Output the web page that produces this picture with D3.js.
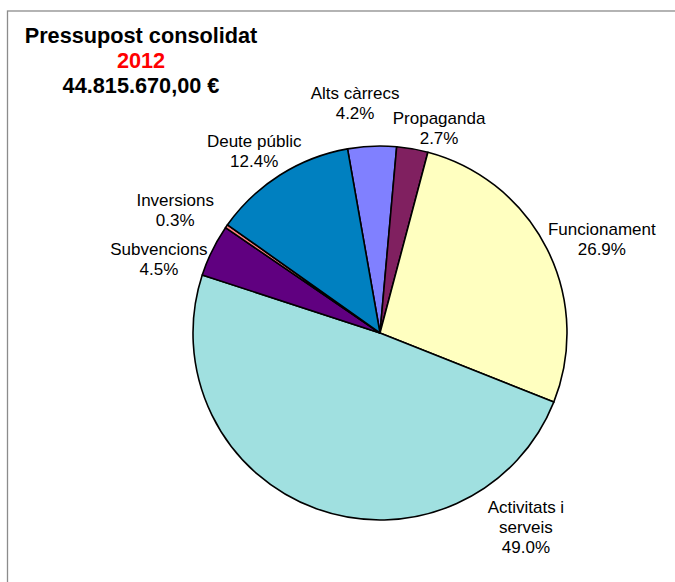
<!DOCTYPE html>
<html>
<head>
<meta charset="utf-8">
<script src="https://cdn.jsdelivr.net/npm/d3@7"></script>
<style>
  body { margin: 0; background: #fff; }
  svg { display: block; font-family: Arial, "Liberation Sans", sans-serif; }
</style>
</head>
<body>
<div id="chart"></div>
<script>
// pie data, in the order Excel drew it (clockwise from first slice)
const categories = ['Alts càrrecs', 'Propaganda', 'Funcionament', 'Activitats i serveis', 'Subvencions', 'Inversions', 'Deute públic'];
const shares = [4.2, 2.7, 26.9, 49.0, 4.5, 0.3, 12.4];
const colors = ['#8080FF', '#802060', '#FFFFC0', '#A0E0E0', '#600080', '#FF8080', '#0080C0'];
// label text lines (Excel wraps "Activitats i serveis")
const labelLines = [['Alts càrrecs'], ['Propaganda'], ['Funcionament'], ['Activitats i', 'serveis'], ['Subvencions'], ['Inversions'], ['Deute públic']];
const titleLines = ['Pressupost consolidat', '2012', '44.815.670,00 €'];

// where excel put the labels: angle (deg, clockwise from top) and distance from centre
const labelAngle = [-6.2, 16.1, 67.0, 143.1, -71.6, -59.0, -34.7];
const labelDist = [231, 213, 241, 243, 233, 239, 221];

var width = 675
var height = 582
var cx = 380, cy = 333
var radius = 187

var svg = d3.select('#chart')
  .append('svg')
    .attr('width', width)
    .attr('height', height)

// chart area border (runs off the right/bottom)
svg.append('rect')
  .attr('x', 7.5).attr('y', 11)
  .attr('width', 700).attr('height', 600)
  .attr('fill', 'none')
  .attr('stroke', '#8c8c8c')
  .attr('stroke-width', 1.3)

// title
var title = svg.append('text')
  .attr('text-anchor', 'middle')
  .style('font-weight', 'bold')
  .style('font-size', '21.7px')
title.selectAll('tspan')
  .data(titleLines)
  .enter().append('tspan')
    .attr('x', 141)
    .attr('y', function(d, i) { return 43 + i * 25; })
    .attr('fill', function(d, i) { return i == 1 ? '#FF0000' : '#000'; })
    .text(function(d) { return d; })

var data = categories.map(function(c, i) { return { name: c, value: shares[i], lines: labelLines[i], idx: i }; });

var pie = d3.pie()
  .sort(null)
  .startAngle(-10 * Math.PI / 180)
  .endAngle(350 * Math.PI / 180)
  .value(function(d) { return d.value; });

var arcGenerator = d3.arc()
  .innerRadius(0)
  .outerRadius(radius)

var g = svg.append('g')
  .attr('transform', 'translate(' + cx + ',' + cy + ')');

g.selectAll('path')
  .data(pie(data))
  .enter().append('path')
    .attr('d', arcGenerator)
    .attr('fill', function(d) { return colors[d.data.idx]; })
    .attr('stroke', '#000')
    .attr('stroke-width', 1.6)
    .attr('stroke-linejoin', 'round')

// labels: name lines + percentage, block centred on the excel position
var lineH = 20
var labels = g.selectAll('.lbl')
  .data(data)
  .enter().append('text')
    .attr('class', 'lbl')
    .attr('text-anchor', 'middle')
    .style('font-size', '17px')
    .attr('fill', '#000')

labels.each(function(d) {
  var a = labelAngle[d.idx] * Math.PI / 180
  var x = Math.sin(a) * labelDist[d.idx]
  var y = -Math.cos(a) * labelDist[d.idx]
  var lines = d.lines.concat([d3.format('.1f')(d.value) + '%'])
  var first = y - (lines.length - 1) * lineH / 2 + 6
  d3.select(this).selectAll('tspan')
    .data(lines)
    .enter().append('tspan')
      .attr('x', x)
      .attr('y', function(t, i) { return first + i * lineH; })
      .text(function(t) { return t; })
})
</script>
</body>
</html>
